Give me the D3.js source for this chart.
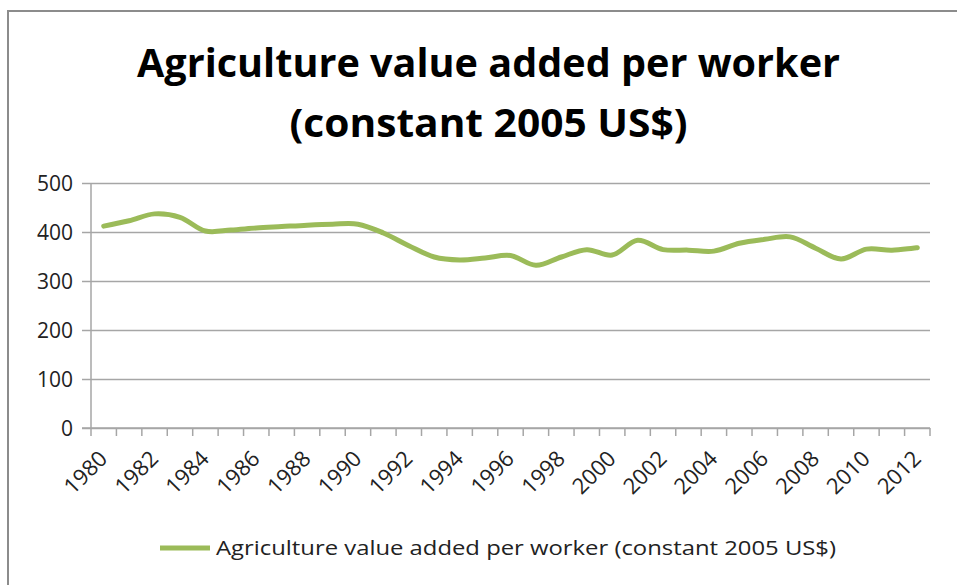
<!DOCTYPE html>
<html>
<head>
<meta charset="utf-8">
<script src="https://cdn.jsdelivr.net/npm/d3@7"></script>
<style>
  html, body { margin: 0; padding: 0; background: #fff; }
  svg { display: block; }
  text { font-family: "Open Sans", "Noto Sans", sans-serif; }
</style>
</head>
<body>
<svg id="chart" width="957" height="585"></svg>
<script>
const years = ["1980","1981","1982","1983","1984","1985","1986","1987","1988","1989","1990","1991","1992","1993","1994","1995","1996","1997","1998","1999","2000","2001","2002","2003","2004","2005","2006","2007","2008","2009","2010","2011","2012"];
const values = [412,423,437,430,402,404,408,411,414,416,416,398,372,349,343,347,352,332,349,364,353,383,364,363,361,377,385,390,367,345,365,363,368];
const yTicks = [0,100,200,300,400,500];
const xTickLabels = years.filter((d,i) => i % 2 === 0);
const titleLines = ["Agriculture value added per worker", "(constant 2005 US$)"];
const seriesName = "Agriculture value added per worker (constant 2005 US$)";

const svg = d3.select("#chart");
const W = 957, H = 585;
const plotL = 91, plotR = 930, plotT = 183, plotB = 428;
const lineColor = "#9BBB59";
const gridColor = "#A6A6A6";

// outer chart border
svg.append("rect").attr("x", 8).attr("y", 11).attr("width", W + 10).attr("height", H + 10)
  .attr("fill", "#fff").attr("stroke", "#8C8C8C").attr("stroke-width", 2);

const x = d3.scaleBand().domain(years).range([plotL, plotR]).padding(0);
const y = d3.scaleLinear().domain([0, 500]).range([plotB, plotT]);

// gridlines + y ticks
const yAxis = d3.axisLeft(y).tickValues(yTicks).tickSize(-(plotR - plotL)).tickSizeOuter(0).tickPadding(18);
const gy = svg.append("g").attr("transform", `translate(${plotL},0)`).call(yAxis);
gy.select(".domain").remove();
gy.selectAll(".tick line").attr("stroke", gridColor).attr("stroke-width", 1.5).attr("x1", -9);
gy.selectAll(".tick text").attr("fill", "#222").attr("font-size", 21).attr("font-family", "'Open Sans', sans-serif").attr("dy", "0.35em");

// y axis line
svg.append("line").attr("x1", plotL).attr("x2", plotL).attr("y1", plotT).attr("y2", plotB)
  .attr("stroke", gridColor).attr("stroke-width", 1.5);

// x axis line and ticks at category boundaries
svg.append("line").attr("x1", plotL - 9).attr("x2", plotR).attr("y1", plotB).attr("y2", plotB)
  .attr("stroke", gridColor).attr("stroke-width", 1.5);
const boundaries = years.map(d => x(d)).concat([x(years[years.length - 1]) + x.bandwidth()]);
svg.append("g").selectAll("line").data(boundaries).join("line")
  .attr("x1", d => d).attr("x2", d => d).attr("y1", plotB).attr("y2", plotB + 8)
  .attr("stroke", gridColor).attr("stroke-width", 1.5);

// x labels
svg.append("g").selectAll("text").data(xTickLabels).join("text")
  .attr("transform", d => `translate(${x(d) + x.bandwidth() / 2 + 5},${plotB + 32}) rotate(-45)`)
  .attr("text-anchor", "end")
  .attr("font-size", 22)
  .attr("fill", "#222")
  .text(d => d);

// line
const line = d3.line()
  .x((d, i) => x(years[i]) + x.bandwidth() / 2)
  .y(d => y(d))
  .curve(d3.curveCatmullRom.alpha(0.5));
svg.append("path").datum(values).attr("d", line)
  .attr("fill", "none").attr("stroke", lineColor).attr("stroke-width", 5)
  .attr("stroke-linejoin", "round").attr("stroke-linecap", "round");

// title
const titleSpecs = [{ t: titleLines[0], y: 77, len: 703 }, { t: titleLines[1], y: 137, len: 398 }];
svg.append("g").selectAll("text").data(titleSpecs).join("text")
  .attr("x", 488.5).attr("y", d => d.y)
  .attr("text-anchor", "middle")
  .attr("font-size", 40).attr("font-weight", "bold").attr("fill", "#000")
  .attr("textLength", d => d.len).attr("lengthAdjust", "spacingAndGlyphs")
  .text(d => d.t);

// legend
svg.append("line").attr("x1", 160).attr("x2", 210).attr("y1", 548).attr("y2", 548)
  .attr("stroke", lineColor).attr("stroke-width", 5);
svg.append("text").attr("x", 216).attr("y", 555)
  .attr("font-size", 20).attr("fill", "#222")
  .attr("textLength", 620).attr("lengthAdjust", "spacingAndGlyphs")
  .text(seriesName);
</script>
</body>
</html>
